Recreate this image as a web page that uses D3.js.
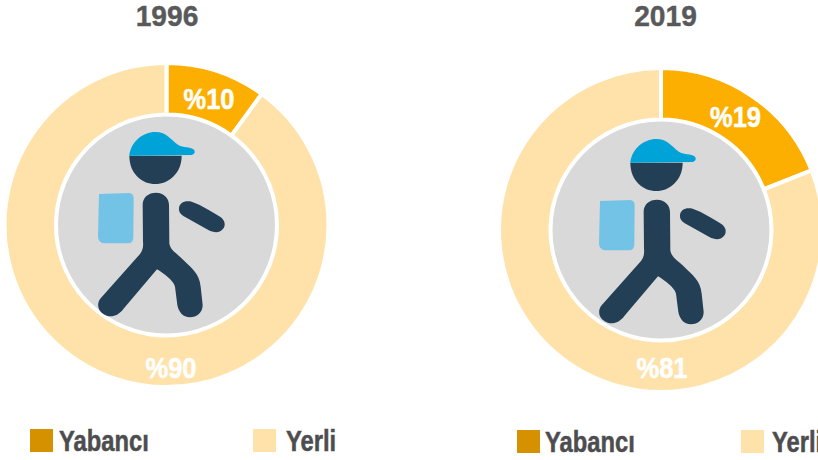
<!DOCTYPE html>
<html><head><meta charset="utf-8">
<script src="https://cdn.jsdelivr.net/npm/d3@7"></script>
<style>html,body{margin:0;padding:0;background:#fff}svg{display:block}
text{font-family:"Liberation Sans",sans-serif;font-weight:700}</style>
</head><body><svg id="c" width="818" height="460"></svg>
<script>
const years = ["1996","2019"];
const categories = ["Yabancı","Yerli"];
const values1996 = [10,90];
const values2019 = [19,81];
const colors = ["#fcaf00","#fee2a9"];
const legendColors = ["#d69100","#fee2a9"];

const svg = d3.select("#c");
const panels = [
  {year:years[0],values:values1996,cx:166.5,cy:225,tx:167,ty:26,px:0,py:0,lx:[30,253],lt:[59,286],ly:429,
   lab:[{x:209,y:109},{x:171,y:378}]},
  {year:years[1],values:values2019,cx:661,cy:230,tx:665.5,ty:26,px:501,py:7,lx:[517,741],lt:[545,772],ly:430,
   lab:[{x:735.5,y:127},{x:662,y:378}]}
];
const pie = d3.pie().sort(null).value(d=>d);
const arc = d3.arc().innerRadius(110.5).outerRadius(162);
function label(t,x,y,size,sx,fill,anchor,sw){
  svg.append("text").text(t)
    .attr("transform",`translate(${x},${y}) scale(${sx},1)`)
    .attr("text-anchor",anchor)
    .attr("font-size",size).attr("fill",fill)
    .attr("stroke",fill).attr("stroke-width",sw);
}
panels.forEach(p=>{
  const g = svg.append("g").attr("transform",`translate(${p.cx},${p.cy})`);
  g.selectAll("path").data(pie(p.values)).join("path")
    .attr("d",arc).attr("fill",(d,i)=>colors[i])
    .attr("stroke","#fff").attr("stroke-width",4);
  g.append("circle").attr("r",108.5).attr("fill","#d9d9d9");
  label(p.year,p.tx,p.ty,30,0.94,"#58595b","middle",0.4);
  p.values.forEach((v,i)=>{
    label("%"+v,p.lab[i].x,p.lab[i].y,29,0.88,"#fff","middle",0.5);
    svg.append("rect").attr("x",p.lx[i]).attr("y",p.ly).attr("width",23).attr("height",23).attr("fill",legendColors[i]);
    label(categories[i],p.lt[i],p.ly+22,29,0.82,"#4d4d4f","start",0.5);
  });
  const f = svg.append("g").attr("transform",`translate(${80+p.px},${110+p.py}) scale(${1/3})`);
  f.append("path").attr("fill","#73c3e6")
    .attr("d","M57 252 L148 249 Q160 250 161 265 L160 385 Q158 400 145 400 L72 400 Q55 398 54 380 Z");
  f.append("path").attr("fill","#223f56")
    .attr("d","M148 137 L305 137 C305 190 265 222 226 222 C185 222 148 190 148 137 Z");
  f.append("path").attr("fill","#00a3d8")
    .attr("d","M148 137 C152 95 190 66 225 66 C262 66 272 90 295 105 C310 114 330 110 340 118 C347 124 345 132 335 135 L148 137 Z");
  f.append("path").attr("fill","#223f56")
    .attr("d","M188 285 C188 262 205 248 228 248 C252 248 267 265 267 285 L268 400 C270 420 290 430 310 450 C335 475 358 490 362 530 L368 585 C368 608 350 622 330 622 C308 622 296 605 292 585 L285 530 C280 510 250 490 231 478 L130 597 C115 618 90 626 70 612 C52 600 50 580 62 565 L180 432 C190 420 190 405 189 395 Z");
  f.append("path").attr("fill","#223f56")
    .attr("d","M297 295 C298 278 315 270 335 275 C365 285 395 305 420 320 C436 330 438 348 428 358 C418 370 400 368 385 360 L310 318 C300 312 296 305 297 295 Z");
});
</script></body></html>
